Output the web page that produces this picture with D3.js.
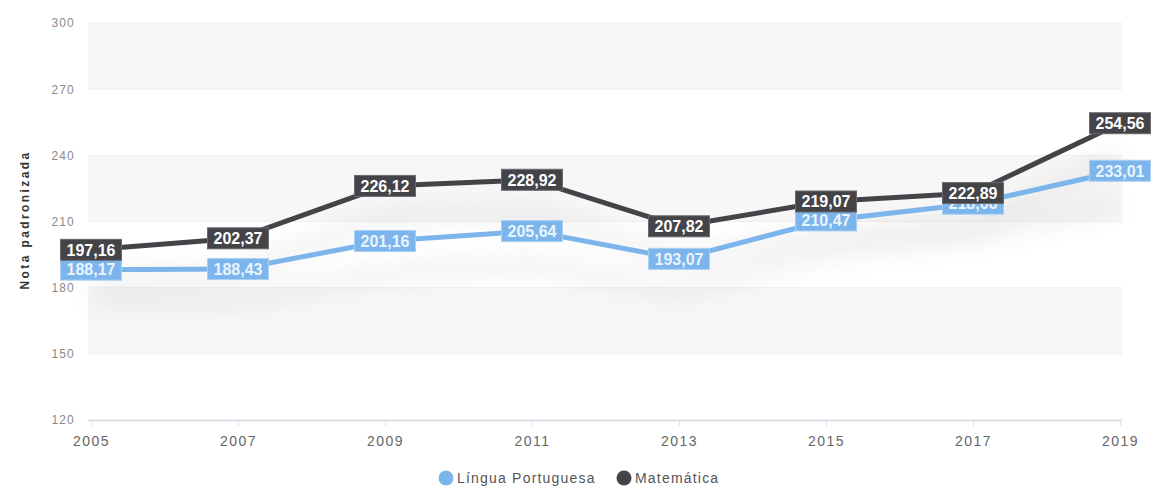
<!DOCTYPE html>
<html><head><meta charset="utf-8">
<script src="https://cdn.jsdelivr.net/npm/d3@7"></script>
<style>body{margin:0;background:#fff;font-family:"Liberation Sans",Arial,sans-serif}</style>
</head><body>
<svg id="c" width="1159" height="495"></svg>
<script>
const years = [2005, 2007, 2009, 2011, 2013, 2015, 2017, 2019];
const portugues = [188.17, 188.43, 201.16, 205.64, 193.07, 210.47, 218.06, 233.01];
const matematica = [197.16, 202.37, 226.12, 228.92, 207.82, 219.07, 222.89, 254.56];
const yTicks = [120, 150, 180, 210, 240, 270, 300];
const seriesNames = ["Língua Portuguesa", "Matemática"];
const colors = ["#7cb5ec", "#434348"];

const svg = d3.select("#c");
const x = d3.scalePoint().domain(years).range([91, 1120]);
const y = d3.scaleLinear().domain([120, 300]).range([420, 23]);
const left = 88, right = 1122;

const defs = svg.append("defs");
const f = defs.append("filter").attr("id", "sh").attr("x", "-10%").attr("y", "-50%").attr("width", "120%").attr("height", "300%");
f.append("feGaussianBlur").attr("in", "SourceAlpha").attr("stdDeviation", 13).attr("result", "b");
f.append("feOffset").attr("in", "b").attr("dy", 32).attr("result", "o");
f.append("feComponentTransfer").attr("in", "o").append("feFuncA").attr("type", "linear").attr("slope", 0.13);

// bands
for (let i = 0; i < yTicks.length - 1; i++) {
  if ((yTicks.length - 2 - i) % 2 === 0) {
    svg.append("rect").attr("x", left).attr("width", right - left)
      .attr("y", y(yTicks[i + 1])).attr("height", y(yTicks[i]) - y(yTicks[i + 1]))
      .attr("fill", "#f7f7f7");
  }
}
// gridlines
svg.append("g").selectAll("line").data(yTicks).join("line")
  .attr("x1", left).attr("x2", right).attr("y1", d => y(d)).attr("y2", d => y(d))
  .attr("stroke", "#efefef").attr("stroke-width", 1);

// y axis
const ya = svg.append("g").attr("transform", `translate(${left},0)`)
  .call(d3.axisLeft(y).tickValues(yTicks).tickSize(0).tickPadding(13));
ya.select(".domain").remove();
ya.selectAll("text").attr("fill", "#8a8a8a").style("font-size", "12px").style("letter-spacing", "1.2px")
  .style("font-family", "Liberation Sans, Arial");

// x axis
const xa = svg.append("g").attr("transform", `translate(0,${y(120)})`)
  .call(d3.axisBottom(x).tickSize(6).tickPadding(10).tickFormat(d => d));
xa.select(".domain").attr("d", `M${left},0.5H${right}`).attr("stroke", "#dde2ea").attr("stroke-width", 2);
xa.selectAll(".tick line").attr("stroke", "#dde2ea");
xa.selectAll("text").attr("fill", "#666").style("font-size", "14px").style("letter-spacing", "1.5px")
  .style("font-family", "Liberation Sans, Arial");

// axis title
svg.append("text").attr("transform", "translate(29,220) rotate(-90)")
  .attr("text-anchor", "middle").attr("fill", "#333").style("font-size", "12px").style("font-weight", "bold")
  .style("letter-spacing", "2.4px").text("Nota padronizada");

const data = [portugues, matematica];
const line = d3.line().x((d, i) => x(years[i])).y(d => y(d));

// shadows
data.forEach((s, k) => {
  svg.append("path").attr("d", line(s)).attr("fill", "none").attr("stroke", "#000")
    .attr("stroke-width", 8).attr("filter", "url(#sh)");
});
data.forEach((s, k) => {
  svg.append("path").attr("d", line(s)).attr("fill", "none").attr("stroke", colors[k])
    .attr("stroke-width", 5).attr("stroke-linejoin", "round");
});

const fmt = v => d3.format(".2f")(v).replace(".", ",");
data.forEach((s, k) => {
  const g = svg.append("g");
  s.forEach((v, i) => {
    const cx = x(years[i]), cy = y(v);
    const gg = g.append("g").attr("transform", `translate(${cx},${cy})`);
    const t = gg.append("text").attr("text-anchor", "middle").attr("dy", "0.36em")
      .attr("fill", k === 0 ? "#eaf4fd" : "#fff").style("font-size", "16px").style("font-weight", "bold")
      .style("font-family", "Liberation Sans, Arial").text(fmt(v));
    const w = t.node().getComputedTextLength() + 12;
    gg.insert("rect", "text").attr("x", -w / 2).attr("y", -10.5).attr("width", w).attr("height", 21)
      .attr("fill", colors[k]).attr("stroke", k === 0 ? "#a9d0f2" : "#6a6a6e").attr("stroke-width", 1);
  });
});

// legend
const lg = svg.append("g").attr("transform", "translate(0,478)");
const items = [{ x: 446, n: 0 }, { x: 624, n: 1 }];
items.forEach(it => {
  lg.append("circle").attr("cx", it.x).attr("cy", 0).attr("r", 7.5).attr("fill", colors[it.n]);
  lg.append("text").attr("x", it.x + 11).attr("dy", "0.35em").attr("fill", "#555")
    .style("font-size", "14px").style("letter-spacing", "1.2px")
    .style("font-family", "Liberation Sans, Arial").text(seriesNames[it.n]);
});
</script>
</body></html>
